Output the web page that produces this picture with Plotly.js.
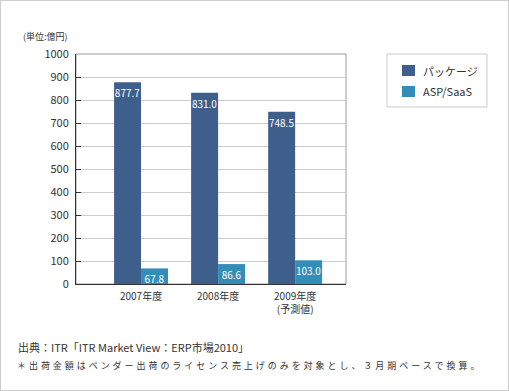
<!DOCTYPE html>
<html>
<head>
<meta charset="utf-8">
<script src="https://cdn.plot.ly/plotly-3.0.1.min.js"></script>
<style>
html,body{margin:0;padding:0;background:#fff;}
#frame{position:absolute;left:0;top:0;width:507px;height:389px;border:1px solid #cccccc;}
#chart{position:absolute;left:0;top:0;width:509px;height:391px;}
</style>
</head>
<body>
<div id="frame"></div>
<div id="chart"></div>
<script>
var categories = ["2007年度", "2008年度", "2009年度<br>(予測値)"];
var packageValues = [877.7, 831.0, 748.5];
var saasValues = [67.8, 86.6, 103.0];
var seriesNames = ["パッケージ", "ASP/SaaS"];
var seriesColors = ["#3e5e8c", "#348cb9"];
var yTicks = [0, 100, 200, 300, 400, 500, 600, 700, 800, 900, 1000];
var unitLabel = "(単位:億円)";
var sourceLine = "出典：ITR「ITR Market View：ERP市場2010」";
var noteLine = "＊出荷金額はベンダー出荷のライセンス売上げのみを対象とし、３月期ベースで換算。";

var FONT = "'Noto Sans CJK JP', 'Noto Sans', sans-serif";
var xIdx = categories.map(function(_, i){ return i; });

// plot area in pixels: x 76..346, y 54..284
function px(x){ return (x - 76) / 270; }
function py(y){ return (284 - y) / 230; }

function barTrace(name, vals, color) {
  return {
    type: "bar", name: name, x: xIdx, y: vals,
    marker: {color: color},
    text: vals.map(function(v){ return v.toFixed(1); }),
    textposition: "inside", insidetextanchor: "end", textangle: 0,
    textfont: {color: "#ffffff", size: 10, family: FONT},
    constraintext: "none", hoverinfo: "none"
  };
}

var traces = [
  barTrace(seriesNames[0], packageValues, seriesColors[0]),
  barTrace(seriesNames[1], saasValues, seriesColors[1])
];

var shapes = [
  {type: "rect", xref: "paper", yref: "paper", x0: 0, x1: 1, y0: 0, y1: 1,
   line: {color: "#999999", width: 1}, layer: "below"},
  {type: "rect", xref: "paper", yref: "paper",
   x0: px(387), x1: px(487), y0: py(107), y1: py(54),
   line: {color: "#cccccc", width: 1}, fillcolor: "rgba(0,0,0,0)"}
];
var annotations = [
  {text: unitLabel, xref: "paper", yref: "paper", x: px(70), y: py(45),
   xanchor: "right", yanchor: "bottom", showarrow: false,
   font: {size: 9, color: "#333333"}},
  {text: sourceLine, xref: "paper", yref: "paper", x: px(16), y: py(347),
   xanchor: "left", yanchor: "middle", showarrow: false,
   font: {size: 11, color: "#333333"}},
  {text: '<span style="letter-spacing:2.95px">' + noteLine + '</span>',
   xref: "paper", yref: "paper", x: px(15), y: py(365),
   xanchor: "left", yanchor: "middle", showarrow: false,
   font: {size: 9, color: "#333333"}}
];
// legend: swatches + labels
seriesNames.forEach(function(name, i){
  var top = 65 + i * 21;
  shapes.push({type: "rect", xref: "paper", yref: "paper",
    x0: px(402), x1: px(415), y0: py(top + 11), y1: py(top),
    line: {width: 0}, fillcolor: seriesColors[i]});
  annotations.push({text: name, xref: "paper", yref: "paper",
    x: px(421), y: py(top + 5.5), xanchor: "left", yanchor: "middle",
    showarrow: false, font: {size: 11, color: "#333333"}});
});

var layout = {
  width: 509, height: 391,
  margin: {l: 76, r: 163, t: 54, b: 107, pad: 0},
  paper_bgcolor: "rgba(0,0,0,0)", plot_bgcolor: "#ffffff",
  font: {family: FONT, color: "#333333", size: 10},
  barmode: "group", bargap: 0.3, bargroupgap: 0,
  showlegend: false,
  xaxis: {
    type: "linear", range: [-0.844, 2.66],
    tickvals: xIdx, ticktext: categories,
    showgrid: false, zeroline: false,
    showline: true, linecolor: "#333333", linewidth: 1,
    ticks: "", tickfont: {size: 10, color: "#333333"},
    ticklabelstandoff: 3,
    fixedrange: true
  },
  yaxis: {
    range: [0, 1000], tickvals: yTicks,
    showgrid: true, gridcolor: "#cccccc", gridwidth: 1,
    zeroline: false, showline: true, linecolor: "#333333", linewidth: 1,
    ticks: "inside", ticklen: 5, tickcolor: "#333333",
    tickfont: {size: 11, color: "#333333"}, ticklabelstandoff: 4,
    fixedrange: true
  },
  shapes: shapes,
  annotations: annotations
};

Plotly.newPlot("chart", traces, layout, {displayModeBar: false, staticPlot: true});
</script>
</body>
</html>
